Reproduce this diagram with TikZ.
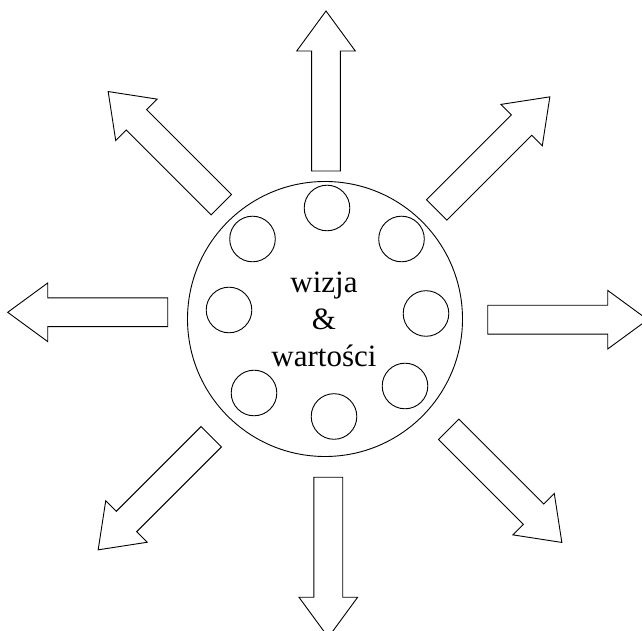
\documentclass[tikz,border=0pt]{standalone}
\usepackage{fontspec}
\setmainfont{Liberation Serif}

\tikzstyle{pointer} = [draw, line width=0.9pt, line join=miter, fill=white]
\tikzstyle{round table} = [circle, draw, line width=0.9pt, minimum size=275pt, inner sep=0pt]
\tikzstyle{seat} = [circle, draw, line width=0.9pt, minimum size=45.6pt, inner sep=0pt]
\tikzstyle{motto} = [align=center, font=\fontsize{31}{37}\selectfont, inner sep=0pt]

\begin{document}
\begin{tikzpicture}[x=1pt, y=1pt]
\useasboundingbox (0,0) rectangle (642,631);
%pijlen naar buiten
\foreach \px/\py/\ang in {326/460/90, 436.7/421/45, 487.7/311.3/0, 448.7/201.7/-45,
    328.3/153.7/-90, 211.3/194.3/-135, 167.7/318.7/180, 221.3/426.3/135}
    \draw[pointer, shift={(\px,\py)}, rotate=\ang]
        (0,-14.4) -- (120,-14.4) -- (120,-29.3) -- (160,0)
        -- (120,29.3) -- (120,14.4) -- (0,14.4) -- cycle;
%tafel
\node[round table] (table) at (325,312) {};
%stoelen
\node[seat] (seat1) at (327,423) {};
\node[seat] (seat2) at (401.5,392) {};
\node[seat] (seat3) at (426,317.5) {};
\node[seat] (seat4) at (405,245) {};
\node[seat] (seat5) at (334,214.5) {};
\node[seat] (seat6) at (254,238) {};
\node[seat] (seat7) at (229,321) {};
\node[seat] (seat8) at (252.5,392) {};
%tekst
\node[motto] (vision) at (324,311.7) {wizja\\\&\\wartości};
\end{tikzpicture}
\end{document}
